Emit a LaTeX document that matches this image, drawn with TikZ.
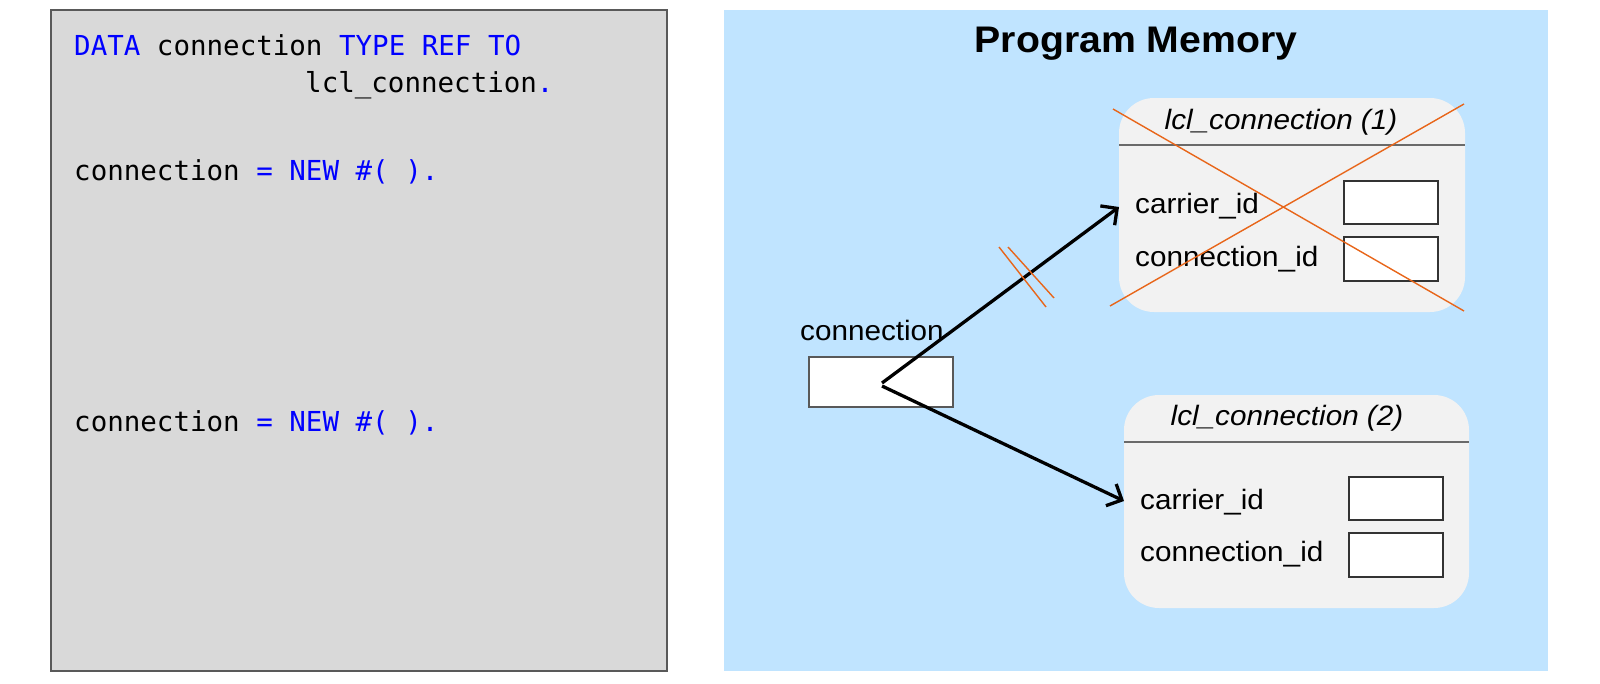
\documentclass[tikz,border=0pt]{standalone}
\usepackage{fontspec}
\setmainfont{Liberation Sans}
\newfontfamily\codefont{DejaVu Sans Mono}
\newfontfamily\armf[FakeStretch=1.06]{Liberation Sans}
\usetikzlibrary{arrows.meta}
\definecolor{codebg}{HTML}{D9D9D9}
\definecolor{codeborder}{HTML}{595959}
\definecolor{membg}{HTML}{C0E4FF}
\definecolor{objbg}{HTML}{F2F2F2}
\definecolor{kw}{HTML}{0000FF}
\definecolor{crossc}{HTML}{E8661A}
\definecolor{hdrline}{HTML}{6A6A6A}
\definecolor{fieldborder}{HTML}{333333}
\begin{document}
\begin{tikzpicture}[x=1pt,y=-1pt,
  codetxt/.style={anchor=base west, inner sep=0pt, font=\codefont\fontsize{27.5}{32}\selectfont},
  lbl/.style={anchor=base west, inner sep=0pt, font=\armf\fontsize{28}{34}\selectfont},
  objtitle/.style={anchor=base, inner sep=0pt, font=\armf\itshape\fontsize{28}{34}\selectfont},
  objbox/.style={rectangle, rounded corners=35pt, fill=objbg, inner sep=0pt, outer sep=0pt},
  fieldbox/.style={rectangle, draw=fieldborder, line width=1.3pt, fill=white, inner sep=0pt, outer sep=0pt, anchor=north west},
  hdr/.style={draw=hdrline, line width=1.6pt},
  refarrow/.style={line width=3.3pt, -{Straight Barb[length=12pt,width=24pt,line width=3.3pt]}},
  crossline/.style={draw=crossc, line width=1.4pt},
]
\useasboundingbox (0,0) rectangle (1600,683);
\fill[white] (0,0) rectangle (1600,683);

% panels
\node[draw=codeborder, line width=1.5pt, fill=codebg, anchor=north west, minimum width=616pt, minimum height=661pt, inner sep=0pt, outer sep=0pt] (code) at (51,10) {};
\node[fill=membg, anchor=north west, minimum width=824pt, minimum height=661pt, inner sep=0pt, outer sep=0pt] (mem) at (724,10) {};

% code
\node[codetxt] (c1) at (74,55) {\textcolor{kw}{DATA} connection \textcolor{kw}{TYPE REF TO}};
\node[codetxt] (c2) at (305,92) {lcl\_connection\textcolor{kw}{.}};
\node[codetxt] (c3) at (74,180) {connection \textcolor{kw}{= NEW \#( ).}};
\node[codetxt] (c4) at (74,431) {connection \textcolor{kw}{= NEW \#( ).}};

% title
\node[anchor=base, inner sep=0pt, font=\armf\bfseries\fontsize{37}{44}\selectfont] (title) at (1136,52) {Program Memory};

% object 1
\node[objbox, minimum width=346pt, minimum height=214pt] (o1) at (1292,205) {};
\draw[hdr] (o1.west |- 0,145) -- (o1.east |- 0,145);
\node[objtitle] (o1t) at (1281,129) {lcl\_connection (1)};
\node[lbl] (o1a) at (1135,213) {carrier\_id};
\node[lbl] (o1b) at (1135,266) {connection\_id};
\node[fieldbox, minimum width=94pt, minimum height=43pt] (f11) at (1344,181) {};
\node[fieldbox, minimum width=94pt, minimum height=44pt] (f12) at (1344,237) {};

% object 2
\node[objbox, minimum width=345pt, minimum height=213pt] (o2) at (1296.5,501.5) {};
\draw[hdr] (o2.west |- 0,442) -- (o2.east |- 0,442);
\node[objtitle] (o2t) at (1287,425) {lcl\_connection (2)};
\node[lbl] (o2a) at (1140,509) {carrier\_id};
\node[lbl] (o2b) at (1140,561) {connection\_id};
\node[fieldbox, minimum width=94pt, minimum height=43pt] (f21) at (1349,477) {};
\node[fieldbox, minimum width=94pt, minimum height=44pt] (f22) at (1349,533) {};

% reference variable
\node[lbl] (refl) at (800,340) {connection};
\node[fieldbox, draw=codeborder, line width=1.2pt, minimum width=144pt, minimum height=50pt] (ref) at (809,357) {};

% arrows
\coordinate (src1) at (882,383);
\coordinate (src2) at (882,386);
\coordinate (t1) at (o1.west |- 0,207);
\coordinate (t2) at (o2.west |- 0,501);
\draw[refarrow] (src1) -- (t1);
\draw[refarrow] (src2) -- (t2);

% cross over object 1
\draw[crossline] (1113,109) -- (1464,311);
\draw[crossline] (1110,306) -- (1464,104);

% broken reference marks
\draw[crossline] (999,247) -- (1046,307);
\draw[crossline] (1008,247) -- (1054,298);
\end{tikzpicture}
\end{document}
